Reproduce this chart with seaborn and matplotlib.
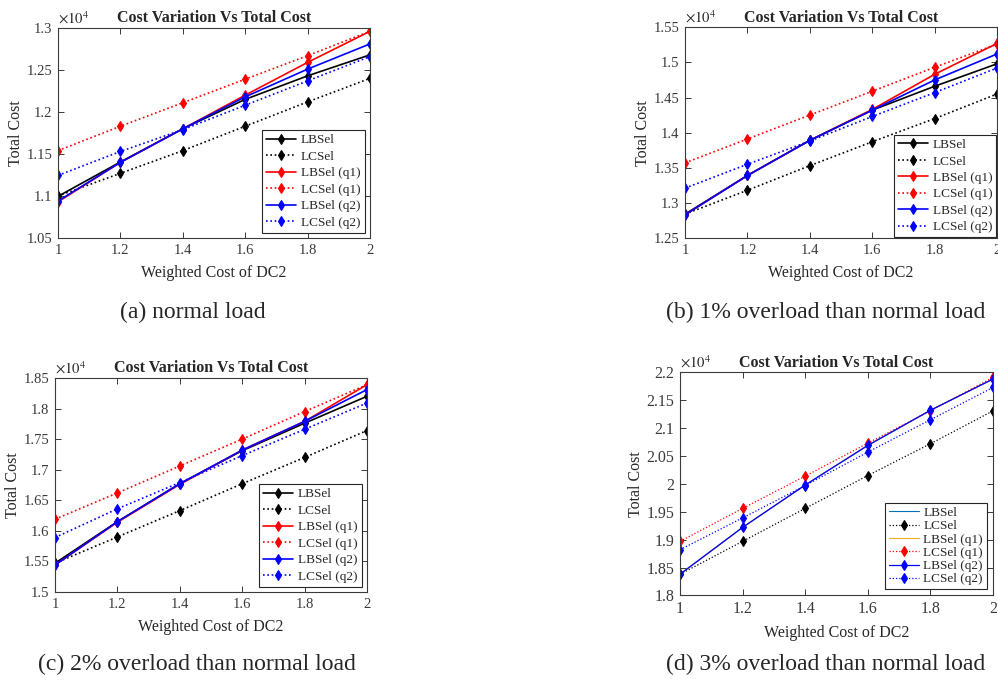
"""
Cost variation vs total cost, four load scenarios (2x2 panels).
"""

# ========= Imports =========
import seaborn as sns
import matplotlib.pyplot as plt
from matplotlib.ticker import FuncFormatter, MultipleLocator


# ========= Data =========
weights = [1.0, 1.2, 1.4, 1.6, 1.8, 2.0]

# (a) normal load
lbsel_a = [10996, 11405, 11800, 12150, 12430, 12680]
lcsel_a = [11000, 11270, 11540, 11830, 12120, 12400]
lbsel_q1_a = [10930, 11400, 11800, 12200, 12590, 12960]
lcsel_q1_a = [11540, 11830, 12110, 12390, 12670, 12960]
lbsel_q2_a = [10940, 11400, 11800, 12180, 12510, 12810]
lcsel_q2_a = [11245, 11530, 11790, 12080, 12370, 12660]

# (b) 1% overload
lbsel_b = [12840, 13390, 13890, 14320, 14660, 14980]
lcsel_b = [12840, 13180, 13530, 13870, 14200, 14550]
lbsel_q1_b = [12830, 13390, 13890, 14330, 14830, 15270]
lcsel_q1_b = [13570, 13910, 14250, 14590, 14930, 15260]
lbsel_q2_b = [12830, 13390, 13890, 14320, 14750, 15120]
lcsel_q2_b = [13210, 13550, 13880, 14230, 14570, 14920]

# (c) 2% overload
lbsel_c = [15470, 16150, 16770, 17310, 17760, 18200]
lcsel_c = [15470, 15900, 16330, 16770, 17200, 17640]
lbsel_q1_c = [15440, 16140, 16760, 17320, 17790, 18390]
lcsel_q1_c = [16190, 16620, 17060, 17500, 17950, 18390]
lbsel_q2_c = [15440, 16150, 16770, 17320, 17790, 18310]
lcsel_q2_c = [15890, 16360, 16790, 17230, 17660, 18090]

# (d) 3% overload
lbsel_d = [18380, 19220, 19980, 20690, 21320, 21880]
lcsel_d = [18380, 18970, 19560, 20150, 20720, 21310]
lbsel_q1_d = [18380, 19220, 19980, 20690, 21320, 21880]
lcsel_q1_d = [18970, 19560, 20140, 20730, 21310, 21910]
lbsel_q2_d = [18380, 19220, 19980, 20690, 21320, 21880]
lcsel_q2_d = [18820, 19390, 19970, 20570, 21150, 21730]

series_names = ["LBSel", "LCSel", "LBSel (q1)", "LCSel (q1)", "LBSel (q2)", "LCSel (q2)"]
captions = [
    "(a) normal load",
    "(b) 1% overload than normal load",
    "(c) 2% overload than normal load",
    "(d) 3% overload than normal load",
]


# ========= Style =========
sns.set_style("ticks")
plt.rcParams["font.family"] = ["Liberation Serif", "DejaVu Serif"]
plt.rcParams["mathtext.fontset"] = "stix"
AX_COLOR = "#3a3a3a"
DOT = (0, (1, 1.6))

# standard look (a-c): color, linestyle, marker
STD_STYLE = [
    ("black", "-", "d"), ("black", DOT, "d"),
    ("#ff0000", "-", "d"), ("#ff0000", DOT, "d"),
    ("#0000ff", "-", "d"), ("#0000ff", DOT, "d"),
]
# panel (d) used plain default-coloured lines for two series
D_STYLE = [
    ("#0072BD", "-", None), ("black", DOT, "d"),
    ("#EDB120", "-", None), ("#ff0000", DOT, "d"),
    ("#0000ff", "-", "d"), ("#0000ff", DOT, "d"),
]

panels = [
    dict(series=[lbsel_a, lcsel_a, lbsel_q1_a, lcsel_q1_a, lbsel_q2_a, lcsel_q2_a],
         ylim=(10500, 13000), rect=[0.0581, 0.651, 0.3126, 0.308],
         style=STD_STYLE, lw=1.2, spacing=0.32, pad=0.4, cap=(193, 312), tick=10.5),
    dict(series=[lbsel_b, lcsel_b, lbsel_q1_b, lcsel_q1_b, lbsel_q2_b, lcsel_q2_b],
         ylim=(12500, 15500), rect=[0.6864, 0.651, 0.3126, 0.309],
         style=STD_STYLE, lw=1.2, spacing=0.32, pad=0.05, cap=(826, 312), tick=10.5),
    dict(series=[lbsel_c, lcsel_c, lbsel_q1_c, lcsel_q1_c, lbsel_q2_c, lcsel_q2_c],
         ylim=(15000, 18500), rect=[0.0551, 0.132, 0.3126, 0.3138],
         style=STD_STYLE, lw=1.2, spacing=0.32, pad=0.4, cap=(197, 664), tick=10.5),
    dict(series=[lbsel_d, lcsel_d, lbsel_q1_d, lcsel_q1_d, lbsel_q2_d, lcsel_q2_d],
         ylim=(18000, 22000), rect=[0.6814, 0.127, 0.3136, 0.327],
         style=D_STYLE, lw=0.9, spacing=0.08, pad=0.45, cap=(826, 664), tick=11.5),
]


# ========= Helpers =========
def draw_panel(fig, cfg, caption):
    ax = fig.add_axes(cfg["rect"])
    for name, values, (color, ls, marker) in zip(series_names, cfg["series"], cfg["style"]):
        kws = dict(color=color, linestyle=ls, lw=cfg["lw"] if marker else 0.8)
        if marker:
            kws.update(marker=marker, markersize=5.5, markeredgecolor=color,
                       markerfacecolor=color, markeredgewidth=0.8)
        sns.lineplot(x=weights, y=values, ax=ax, label=name, errorbar=None, **kws)

    ax.set_xlim(1, 2)
    ax.set_ylim(*cfg["ylim"])
    ax.xaxis.set_major_locator(MultipleLocator(0.2))
    ax.xaxis.set_major_formatter(FuncFormatter(lambda v, p: f"{v:g}"))
    ax.yaxis.set_major_locator(MultipleLocator(500))
    ax.yaxis.set_major_formatter(FuncFormatter(lambda v, p: f"{v / 1e4:g}"))
    ax.tick_params(direction="in", top=True, right=True, length=4, width=0.7,
                   colors=AX_COLOR, labelsize=cfg["tick"], pad=4)
    for sp in ax.spines.values():
        sp.set_color(AX_COLOR)
        sp.set_linewidth(0.8)

    ax.set_xlabel("Weighted Cost of DC2", fontsize=11.5, color="#262626", labelpad=6)
    ax.set_ylabel("Total Cost", fontsize=11.5, color="#262626", labelpad=2)
    ax.set_title("Cost Variation Vs Total Cost", fontsize=11.5, fontweight="bold", pad=4)
    ax.text(0.0, 1.008, r"$\times10^{4}$", transform=ax.transAxes, fontsize=10.5,
            ha="left", va="bottom", color="#262626")

    leg = ax.legend(loc="lower right", fontsize=9.5, frameon=True, fancybox=False,
                    framealpha=1, edgecolor="#262626", handlelength=2.3,
                    handletextpad=0.35, labelspacing=cfg["spacing"],
                    borderpad=0.3, borderaxespad=cfg["pad"], numpoints=1)
    leg.get_frame().set_linewidth(0.8)

    cx, cy = cfg["cap"]
    fig.text(cx / 998, 1 - cy / 682, caption, fontsize=17, ha="center", va="center")
    return ax


# ========= Main =========
def main():
    fig = plt.figure(figsize=(9.98, 6.82), dpi=100)
    for cfg, caption in zip(panels, captions):
        draw_panel(fig, cfg, caption)
    fig.savefig("out.png", dpi=100)
    plt.close(fig)


if __name__ == "__main__":
    main()
